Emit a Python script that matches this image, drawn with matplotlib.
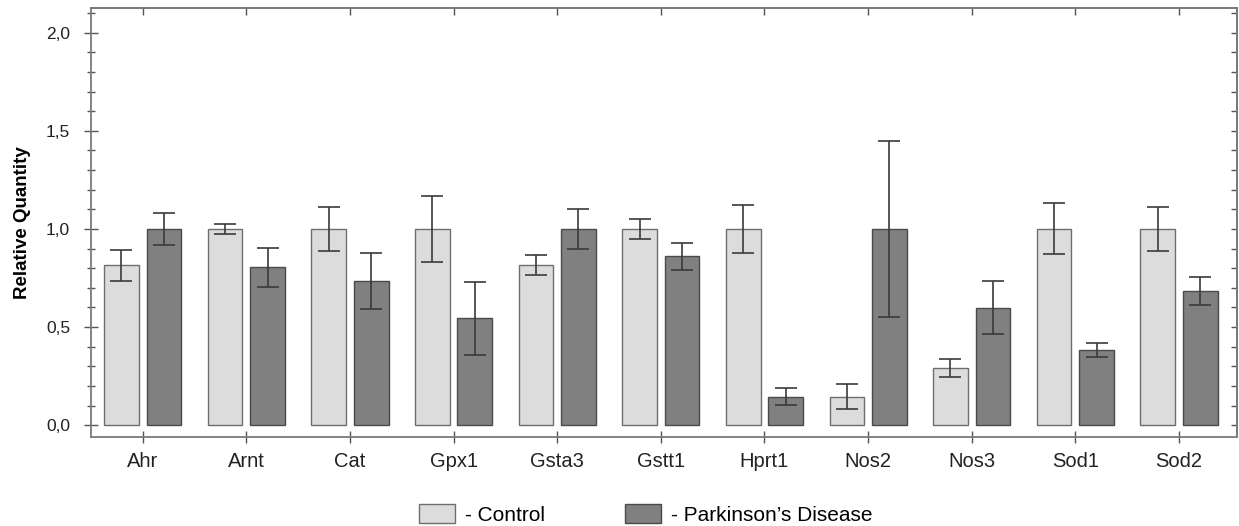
import numpy as np
import matplotlib
matplotlib.use('Agg')
import matplotlib.pyplot as plt
from matplotlib.patches import Patch
from matplotlib.ticker import MultipleLocator, FuncFormatter

plt.rcParams['font.family'] = ['Liberation Sans', 'DejaVu Sans']

## data
genes = ['Ahr', 'Arnt', 'Cat', 'Gpx1', 'Gsta3', 'Gstt1', 'Hprt1', 'Nos2', 'Nos3', 'Sod1', 'Sod2']
control = [0.815, 1.0, 1.0, 1.0, 0.817, 1.0, 1.0, 0.146, 0.293, 1.0, 1.0]
control_err = [0.08, 0.025, 0.11, 0.167, 0.052, 0.05, 0.12, 0.063, 0.047, 0.13, 0.11]
parkinson = [1.0, 0.805, 0.737, 0.545, 1.0, 0.861, 0.146, 1.0, 0.599, 0.385, 0.684]
parkinson_err = [0.08, 0.10, 0.143, 0.185, 0.10, 0.07, 0.042, 0.45, 0.135, 0.036, 0.069]

x = np.arange(len(genes))
width = 0.335
offset = 0.205

fig = plt.figure(figsize=(12.39, 5.26), dpi=100)
ax = fig.add_axes([0.0732, 0.1692, 0.9252, 0.8156])

err_kw = dict(ecolor='#3a3a3a', elinewidth=1.2, capsize=8, capthick=1.2)
ax.bar(x - offset, control, width, color='#dcdcdc', edgecolor='#6e6e6e', linewidth=1.0,
       yerr=control_err, error_kw=err_kw, zorder=2)
ax.bar(x + offset, parkinson, width, color='#808080', edgecolor='#4a4a4a', linewidth=1.0,
       yerr=parkinson_err, error_kw=err_kw, zorder=2)

ax.set_xlim(-0.502, 10.56)
ax.set_ylim(-0.06, 2.126)

ax.set_xticks(x)
ax.set_xticklabels(genes, fontsize=14.5, color='#222222')
ax.yaxis.set_major_locator(MultipleLocator(0.5))
ax.yaxis.set_minor_locator(MultipleLocator(0.1))
ax.yaxis.set_major_formatter(FuncFormatter(lambda v, p: ('%.1f' % v).replace('.', ',')))
ax.tick_params(axis='y', which='major', direction='inout', length=9.5, width=1.0,
               color='#555555', labelsize=12.5, labelcolor='#222222', pad=10)
ax.tick_params(axis='y', which='minor', direction='inout', length=6, width=1.0, color='#555555')
ax.tick_params(axis='x', which='major', direction='inout', length=9, width=1.0,
               color='#555555', pad=6)

## inward ticks on the top and right sides
top = ax.secondary_xaxis('top')
top.set_xticks(x)
top.tick_params(direction='in', length=5, width=1.0, color='#555555', labeltop=False)
right = ax.secondary_yaxis('right')
right.yaxis.set_major_locator(MultipleLocator(0.1))
right.tick_params(direction='in', length=4.5, width=1.0, color='#555555', labelright=False)

for a in (ax, top, right):
    for s in a.spines.values():
        s.set_color('#7a7a7a')
        s.set_linewidth(1.3)

ax.set_ylabel('Relative Quantity', fontsize=13.5, fontweight='bold')
ax.yaxis.set_label_coords(-0.052, 0.5)

handles = [Patch(facecolor='#dcdcdc', edgecolor='#6e6e6e', label='- Control'),
           Patch(facecolor='#808080', edgecolor='#4a4a4a', label="- Parkinson\u2019s Disease")]
fig.legend(handles=handles, loc='center', bbox_to_anchor=(0.5214, 0.022), ncol=2,
           frameon=False, fontsize=15, handlelength=1.7, handleheight=1.0,
           handletextpad=0.5, columnspacing=3.85, borderpad=0.2)

fig.savefig('out.png', dpi=100)
